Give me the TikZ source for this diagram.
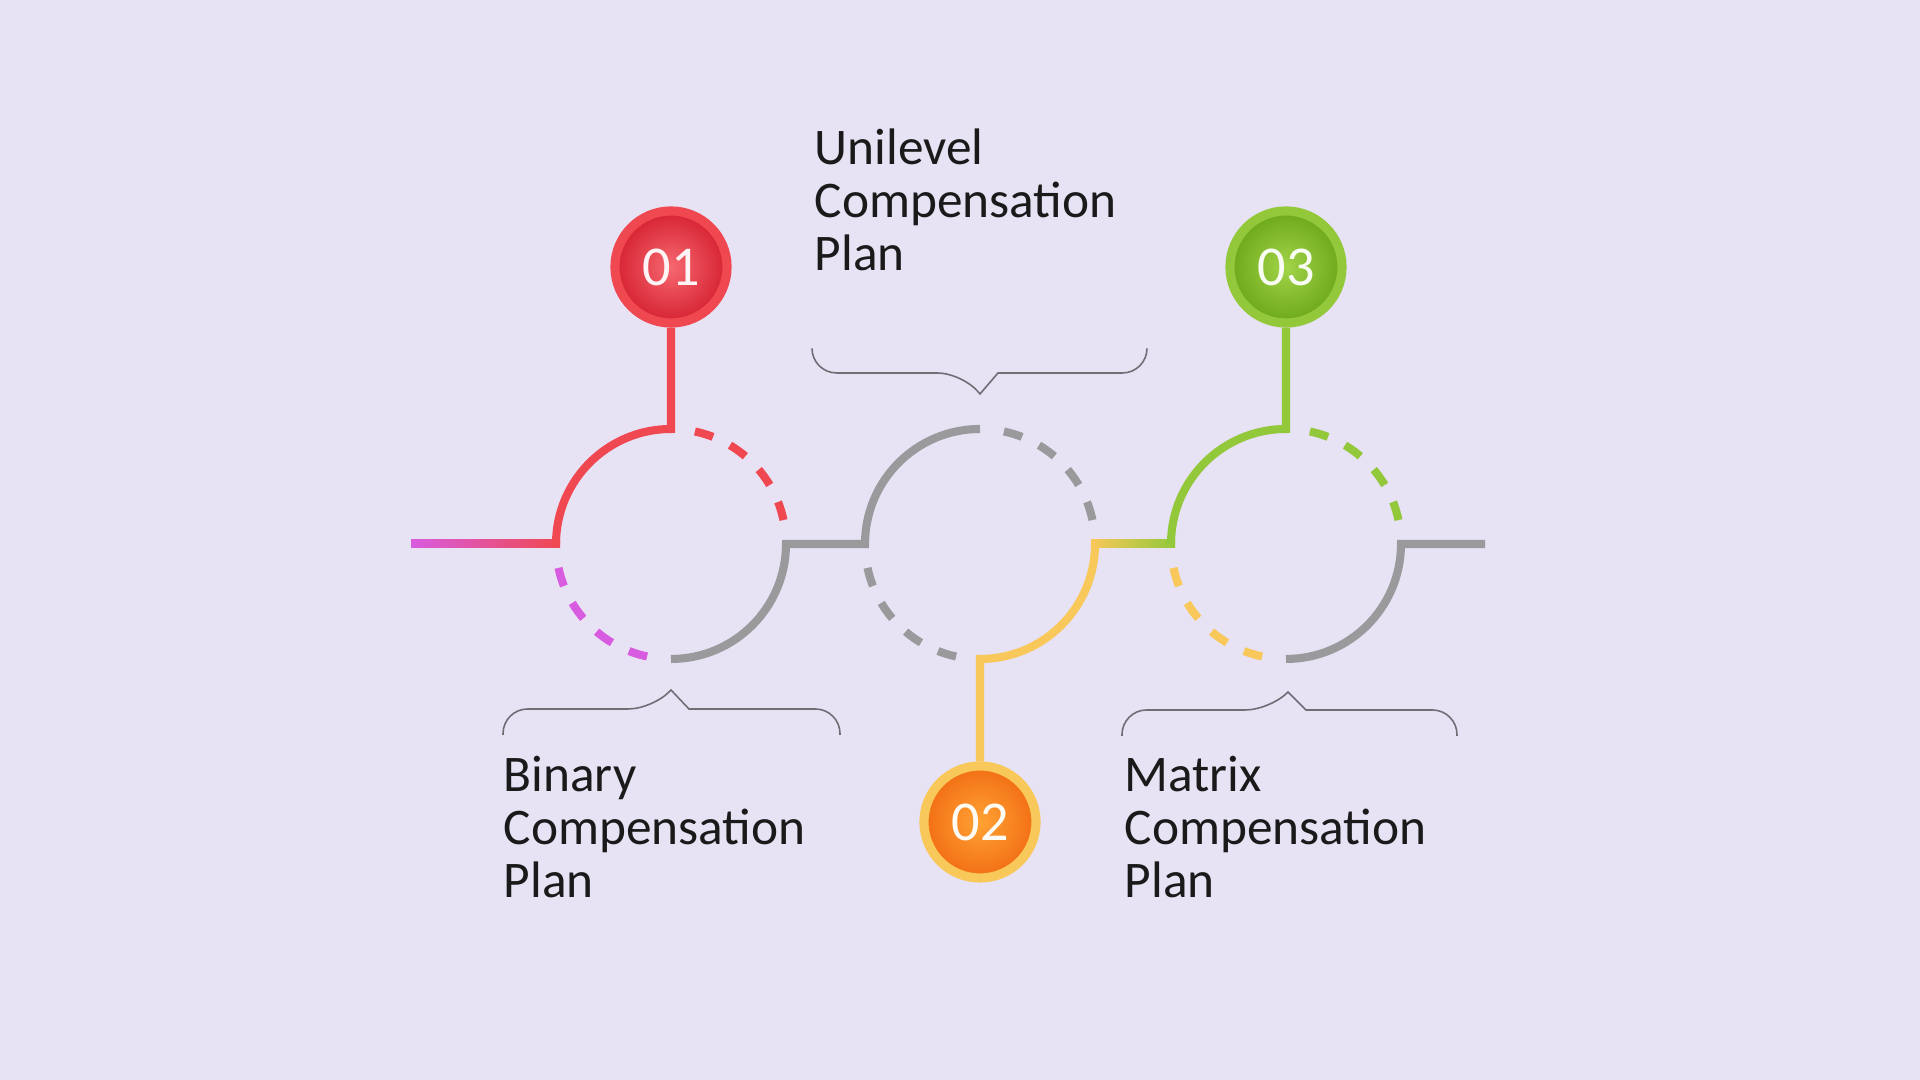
\documentclass[tikz,border=0pt]{standalone}
\usepackage{fontspec}
\setmainfont{Carlito}
\definecolor{bgplan}{RGB}{231,226,244}
\definecolor{redplan}{RGB}{240,72,80}
\definecolor{redin}{RGB}{246,104,112}
\definecolor{redout}{RGB}{214,34,50}
\definecolor{magplan}{RGB}{216,92,224}
\definecolor{greyplan}{RGB}{154,154,156}
\definecolor{yellowplan}{RGB}{249,200,90}
\definecolor{orangein}{RGB}{255,162,52}
\definecolor{orangeout}{RGB}{242,110,20}
\definecolor{greenplan}{RGB}{146,200,58}
\definecolor{greenin}{RGB}{162,212,72}
\definecolor{greenout}{RGB}{108,168,26}
\definecolor{braceplan}{RGB}{110,110,116}
\definecolor{textplan}{RGB}{26,26,26}
\begin{document}
\begin{tikzpicture}
  [
    x=0.01cm, y=0.01cm,
    ring/.style={line width=2.3pt, draw=#1},
    ringdash/.style={line width=2.3pt, draw=#1, dash pattern=on 5.38pt off 5.38pt},
    badge/.style n args={3}{circle, minimum size=1.12cm, inner sep=0pt,
      line width=2.6pt, draw=#1, inner color=#2, outer color=#3,
      text=white!94!#1, font=\fontsize{16}{17}\selectfont},
    planbrace/.style={draw=braceplan, line width=0.45pt},
    plantext/.style={anchor=base west, align=left, inner sep=0pt, text=textplan,
      font=\fontsize{14.6}{15.2}\selectfont}
  ]
  % background
  \fill[bgplan] (0,0) rectangle (1920,1080);
  % circle points
  \foreach \n/\x in {1/671,2/980,3/1286} {
      \coordinate (c\n) at (\x,536);
      \coordinate (top\n) at (\x,651);
      \coordinate (bot\n) at (\x,421);
      \coordinate (east\n) at (\x+115,536);
      \coordinate (west\n) at (\x-115,536);
  }
  \coordinate (tailW) at (411,536);
  \coordinate (tailE) at (1485,536);
  % badges
  \node[badge={redplan}{redin}{redout}] (b1) at (671,813) {01};
  \node[badge={yellowplan}{orangein}{orangeout}] (b2) at (980,258) {02};
  \node[badge={greenplan}{greenin}{greenout}] (b3) at (1286,813) {03};
  % texts (base = last line)
  \node[plantext] (unilevel) at (814,809) {Unilevel\\Compensation\\Plan};
  \node[plantext] (binary) at (503,182) {Binary\\Compensation\\Plan};
  \node[plantext] (matrix) at (1124,182) {Matrix\\Compensation\\Plan};
  % braces
  \draw[planbrace, rounded corners=7pt] (812,731) -- (812,707) -- (962,707)
    [sharp corners] -- (980,686) -- (998,707) [rounded corners=7pt] -- (1147,707) -- (1147,731);
  \draw[planbrace, rounded corners=7pt] (503,345) -- (503,371) -- (653,371)
    [sharp corners] -- (671,390) -- (689,371) [rounded corners=7pt] -- (840,371) -- (840,345);
  \draw[planbrace, rounded corners=7pt] (1122,344) -- (1122,370) -- (1270,370)
    [sharp corners] -- (1288,388) -- (1306,370) [rounded corners=7pt] -- (1457,370) -- (1457,344);
  % ring 1
  \shade[left color=magplan, right color=redplan]
    ([yshift=-0.04cm]tailW) rectangle ([xshift=0.04cm,yshift=0.04cm]west1);
  \draw[ring=redplan] (b1) -- (top1) arc[start angle=90, end angle=180, radius=115];
  \draw[ringdash=redplan] (c1) ++(78:115) arc[start angle=78, end angle=12, radius=115];
  \draw[ringdash=magplan] (c1) ++(192:115) arc[start angle=192, end angle=258, radius=115];
  \draw[ring=greyplan] (bot1) arc[start angle=270, end angle=360, radius=115]
    -- (west2) arc[start angle=180, end angle=90, radius=115];
  % ring 2
  \draw[ringdash=greyplan] (c2) ++(78:115) arc[start angle=78, end angle=12, radius=115];
  \draw[ringdash=greyplan] (c2) ++(192:115) arc[start angle=192, end angle=258, radius=115];
  \draw[ring=yellowplan] (b2) -- (bot2) arc[start angle=270, end angle=360, radius=115];
  \shade[left color=yellowplan, right color=greenplan]
    ([xshift=-0.04cm,yshift=-0.04cm]east2) rectangle ([xshift=0.04cm,yshift=0.04cm]west3);
  % ring 3
  \draw[ring=greenplan] (west3) arc[start angle=180, end angle=90, radius=115] -- (b3);
  \draw[ringdash=greenplan] (c3) ++(78:115) arc[start angle=78, end angle=12, radius=115];
  \draw[ringdash=yellowplan] (c3) ++(192:115) arc[start angle=192, end angle=258, radius=115];
  \draw[ring=greyplan] (bot3) arc[start angle=270, end angle=360, radius=115] -- (tailE);
\end{tikzpicture}
\end{document}
